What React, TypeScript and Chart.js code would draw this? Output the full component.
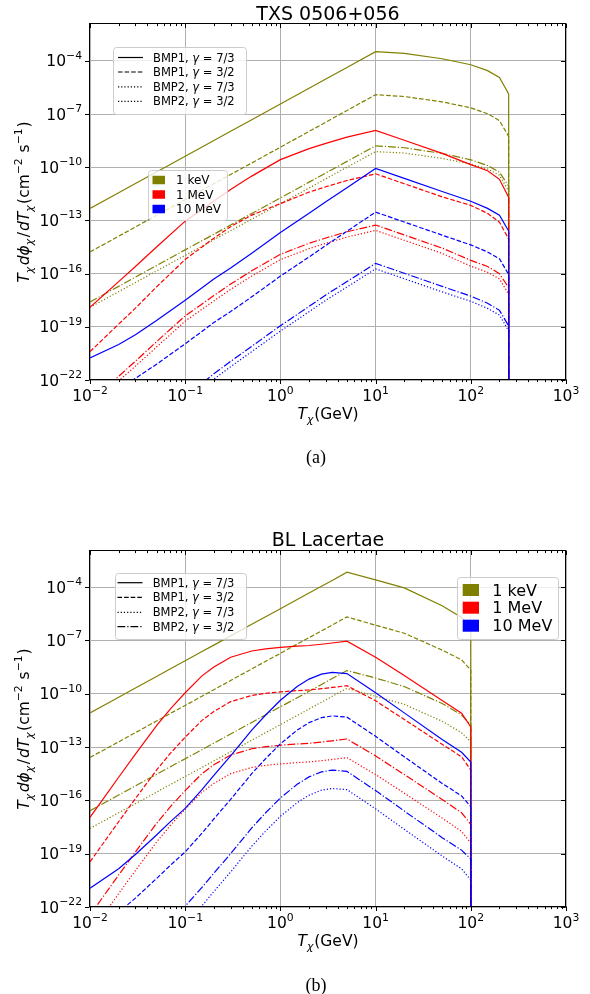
import React, { useEffect, useRef } from 'react';
import { Chart, registerables } from 'chart.js';

Chart.register(...registerables);

const OLIVE = '#808000';
const RED = '#ff0000';
const BLUE = '#0000ff';

const X_TICKS = [1e-2, 1e-1, 1, 10, 100, 1000];
const X_TICK_EXP = ['−2', '−1', '0', '1', '2', '3'];
const Y_TICKS = [1e-22, 1e-19, 1e-16, 1e-13, 1e-10, 1e-7, 1e-4];
const Y_TICK_EXP = ['−22', '−19', '−16', '−13', '−10', '−7', '−4'];

const MASS_LABELS = ['1 keV', '1 MeV', '10 MeV'];
const MASS_COLORS = [OLIVE, RED, BLUE];
const MODEL_NAMES = ['BMP1', 'BMP1', 'BMP2', 'BMP2'];
const GAMMA_LABELS = ['7/3', '3/2', '7/3', '3/2'];
const SERIES_STYLES = ['solid', 'dashed', 'dotted', 'dashdot'];
const LEGEND_STYLES_A = ['solid', 'dashed', 'dotted', 'dotted'];
const LEGEND_STYLES_B = ['solid', 'dashed', 'dotted', 'dashdot'];

// ---------- Panel (a): TXS 0506+056  (values are log10 of T dphi/dT) ----------
const xA = [0.01, 0.02, 0.03, 0.05, 0.1, 0.2, 0.3, 0.5, 1, 2, 3, 5, 10, 20, 50, 100, 150, 200, 250, 250];

const aKeV_BMP1_73 = [-12.33, -11.44, -10.92, -10.27, -9.38, -8.49, -7.97, -7.32, -6.43, -5.54, -5.02, -4.37, -3.48, -3.58, -3.88, -4.22, -4.55, -4.94, -5.87, -40];
const aKeV_BMP1_32 = [-14.78, -13.89, -13.37, -12.71, -11.82, -10.93, -10.41, -9.76, -8.87, -7.98, -7.46, -6.8, -5.91, -6.01, -6.31, -6.65, -6.98, -7.37, -8.26, -40];
const aKeV_BMP2_73 = [-17.9, -17.02, -16.5, -15.85, -14.97, -14.09, -13.58, -12.93, -12.05, -11.17, -10.65, -10.0, -9.12, -9.2, -9.5, -9.82, -10.1, -10.45, -11.35, -40];
const aKeV_BMP2_32 = [-17.6, -16.72, -16.2, -15.55, -14.66, -13.78, -13.26, -12.61, -11.73, -10.84, -10.32, -9.67, -8.79, -8.9, -9.22, -9.58, -9.9, -10.28, -11.07, -40];

const aMeV_BMP1_73 = [-17.9, -16.45, -15.6, -14.5, -13.04, -11.9, -11.25, -10.5, -9.57, -8.95, -8.65, -8.3, -7.92, -8.48, -9.22, -9.85, -10.2, -10.68, -11.7, -40];
const aMeV_BMP1_32 = [-20.4, -18.85, -17.95, -16.75, -15.2, -14.0, -13.35, -12.7, -12.05, -11.4, -11.1, -10.75, -10.37, -10.93, -11.67, -12.15, -12.6, -13.1, -14.05, -40];
const aMeV_BMP2_73 = [-23.54, -22.05, -21.22, -20.14, -18.68, -17.54, -16.89, -16.14, -15.21, -14.59, -14.29, -13.94, -13.56, -14.12, -14.86, -15.58, -15.92, -16.3, -17.16, -40];
const aMeV_BMP2_32 = [-23.24, -21.79, -20.94, -19.84, -18.38, -17.24, -16.59, -15.84, -14.91, -14.29, -13.99, -13.64, -13.26, -13.82, -14.56, -15.25, -15.6, -16.0, -16.8, -40];

const a10MeV_BMP1_73 = [-20.76, -20.0, -19.45, -18.65, -17.5, -16.3, -15.68, -14.85, -13.68, -12.6, -11.95, -11.15, -10.07, -10.63, -11.37, -11.92, -12.32, -12.7, -13.6, -40];
const a10MeV_BMP1_32 = [-23.22, -22.46, -21.91, -21.11, -19.96, -18.76, -18.14, -17.31, -16.14, -15.06, -14.41, -13.61, -12.53, -13.09, -13.83, -14.38, -14.78, -15.16, -16.05, -40];
const a10MeV_BMP2_73 = [-27.3, -26.3, -25.5, -24.6, -23.25, -21.95, -21.25, -20.4, -19.24, -18.15, -17.5, -16.76, -15.73, -16.29, -17.03, -17.56, -17.96, -18.34, -19.23, -40];
const a10MeV_BMP2_32 = [-27.0, -26.0, -25.2, -24.3, -22.95, -21.65, -20.95, -20.1, -18.94, -17.85, -17.2, -16.45, -15.42, -15.98, -16.72, -17.27, -17.67, -18.07, -18.95, -40];

// ---------- Panel (b): BL Lacertae ----------
const xB = [0.01, 0.02, 0.03, 0.05, 0.07, 0.1, 0.15, 0.2, 0.3, 0.5, 0.7, 1, 1.5, 2, 2.7, 3.5, 5, 10, 20, 50, 80, 100, 100];

const bKeV_BMP1_73 = [-11.08, -10.2, -9.68, -9.03, -8.6, -8.15, -7.63, -7.27, -6.75, -6.1, -5.67, -5.22, -4.7, -4.34, -3.96, -3.63, -3.17, -3.6, -4.05, -5.05, -5.72, -6.2, -40];
const bKeV_BMP1_32 = [-13.59, -12.71, -12.19, -11.54, -11.11, -10.66, -10.14, -9.78, -9.26, -8.61, -8.18, -7.73, -7.21, -6.85, -6.47, -6.14, -5.68, -6.15, -6.6, -7.55, -8.1, -8.67, -40];
const bKeV_BMP2_73 = [-17.58, -16.7, -16.19, -15.54, -15.11, -14.66, -14.15, -13.78, -13.27, -12.62, -12.19, -11.74, -11.23, -10.86, -10.48, -10.15, -9.7, -10.15, -10.6, -11.55, -12.2, -12.7, -40];
const bKeV_BMP2_32 = [-16.58, -15.7, -15.19, -14.54, -14.11, -13.66, -13.15, -12.78, -12.27, -11.62, -11.19, -10.74, -10.23, -9.86, -9.48, -9.15, -8.7, -9.12, -9.6, -10.55, -11.2, -11.75, -40];

const bMeV_BMP1_73 = [-16.96, -14.7, -13.4, -11.8, -10.85, -9.95, -9.0, -8.5, -7.95, -7.6, -7.48, -7.4, -7.33, -7.29, -7.22, -7.15, -7.05, -7.95, -8.98, -10.38, -11.1, -11.87, -40];
const bMeV_BMP1_32 = [-19.46, -17.2, -15.9, -14.3, -13.35, -12.45, -11.5, -11.0, -10.45, -10.1, -9.98, -9.9, -9.83, -9.79, -9.72, -9.65, -9.55, -10.4, -11.45, -12.85, -13.55, -14.3, -40];
const bMeV_BMP2_73 = [-23.51, -21.25, -19.95, -18.35, -17.4, -16.5, -15.55, -15.05, -14.5, -14.15, -14.03, -13.95, -13.88, -13.84, -13.77, -13.7, -13.6, -14.55, -15.6, -17.0, -17.75, -18.4, -40];
const bMeV_BMP2_32 = [-22.46, -20.2, -18.9, -17.3, -16.35, -15.45, -14.5, -14.0, -13.45, -13.1, -12.98, -12.9, -12.83, -12.79, -12.72, -12.65, -12.55, -13.5, -14.55, -15.95, -16.7, -17.35, -40];

const b10MeV_BMP1_73 = [-20.95, -19.85, -19.05, -17.95, -17.2, -16.45, -15.4, -14.6, -13.5, -12.05, -11.2, -10.37, -9.6, -9.18, -8.9, -8.8, -8.87, -9.95, -11.08, -12.58, -13.3, -13.85, -40];
const b10MeV_BMP1_32 = [-23.4, -22.3, -21.5, -20.4, -19.65, -18.9, -17.85, -17.05, -15.95, -14.5, -13.65, -12.82, -12.05, -11.63, -11.35, -11.25, -11.32, -12.4, -13.55, -15.05, -15.75, -16.36, -40];
const b10MeV_BMP2_73 = [-27.48, -26.38, -25.58, -24.48, -23.73, -22.98, -21.93, -21.13, -20.03, -18.58, -17.73, -16.9, -16.13, -15.71, -15.43, -15.33, -15.4, -16.48, -17.63, -19.13, -19.85, -20.48, -40];
const b10MeV_BMP2_32 = [-26.45, -25.35, -24.55, -23.45, -22.7, -21.95, -20.9, -20.1, -19.0, -17.55, -16.7, -15.87, -15.1, -14.68, -14.4, -14.3, -14.37, -15.45, -16.6, -18.1, -18.8, -19.3, -40];

const DASH: Record<string, number[]> = {
  solid: [],
  dashed: [4.6, 2.0],
  dotted: [1.2, 2.0],
  dashdot: [7.8, 2.0, 1.2, 2.0],
};

const FAMILY = "'DejaVu Sans', 'Noto Sans', sans-serif";
const fontOf = (size: number, italic?: boolean) => `${italic ? 'italic ' : ''}${size}px ${FAMILY}`;

type Run = { t: string; s: number; i?: boolean; dy?: number; g?: number };

function runsWidth(ctx: CanvasRenderingContext2D, runs: Run[]) {
  let w = 0;
  for (const r of runs) {
    ctx.font = fontOf(r.s, r.i);
    w += ctx.measureText(r.t).width + (r.g || 0);
  }
  return w;
}

function drawRuns(ctx: CanvasRenderingContext2D, x: number, y: number, runs: Run[], align: 'left' | 'center' | 'right') {
  const w = runsWidth(ctx, runs);
  let cx = align === 'center' ? x - w / 2 : align === 'right' ? x - w : x;
  ctx.textAlign = 'left';
  ctx.textBaseline = 'alphabetic';
  for (const r of runs) {
    ctx.font = fontOf(r.s, r.i);
    ctx.fillText(r.t, cx, y + (r.dy || 0));
    cx += ctx.measureText(r.t).width + (r.g || 0);
  }
}

const MAIN = 15.5;
const SUB = 10.8;
const Y_LABEL: Run[] = [
  { t: 'T', s: MAIN, i: true },
  { t: 'χ', s: SUB, i: true, dy: 3.5, g: 1.5 },
  { t: 'd', s: MAIN, i: true },
  { t: 'ϕ', s: MAIN, i: true },
  { t: 'χ', s: SUB, i: true, dy: 3.5, g: 1.5 },
  { t: '/', s: MAIN, g: 1 },
  { t: 'd', s: MAIN, i: true },
  { t: 'T', s: MAIN, i: true },
  { t: 'χ', s: SUB, i: true, dy: 3.5, g: 1.5 },
  { t: '(cm', s: MAIN },
  { t: '−2', s: SUB, dy: -7, g: 1 },
  { t: ' s', s: MAIN },
  { t: '−1', s: SUB, dy: -7, g: 1 },
  { t: ')', s: MAIN },
];
const X_LABEL: Run[] = [
  { t: 'T', s: MAIN, i: true },
  { t: 'χ', s: SUB, i: true, dy: 3.5, g: 1 },
  { t: '(GeV)', s: MAIN },
];

type PanelCfg = {
  title: string;
  titleBaseline: number;
  xs: number[];
  series: number[][][];
  yMax: number;
  padTop: number;
  padBottom: number;
  lineLegend: { x: number; y: number; w: number; h: number; rows: number[]; lx0: number; lx1: number; tx: number; fs: number; styles: string[] };
  massLegend: { x: number; y: number; w: number; h: number; rows: number[]; px: number; pw: number; ph: number; tx: number; fs: number };
};

const PANEL_A: PanelCfg = {
  title: 'TXS 0506+056',
  titleBaseline: 20,
  xs: xA,
  series: [
    [aKeV_BMP1_73, aKeV_BMP1_32, aKeV_BMP2_73, aKeV_BMP2_32],
    [aMeV_BMP1_73, aMeV_BMP1_32, aMeV_BMP2_73, aMeV_BMP2_32],
    [a10MeV_BMP1_73, a10MeV_BMP1_32, a10MeV_BMP2_73, a10MeV_BMP2_32],
  ],
  yMax: 0.012,
  padTop: 24,
  padBottom: 117,
  lineLegend: { x: 113, y: 47, w: 133, h: 67, rows: [57.5, 72, 86.8, 101.3], lx0: 118, lx1: 143, tx: 153, fs: 11.5, styles: LEGEND_STYLES_A },
  massLegend: { x: 148, y: 170, w: 79, h: 50, rows: [180, 194.5, 209], px: 152.5, pw: 12.5, ph: 8.5, tx: 176, fs: 12 },
};

const PANEL_B: PanelCfg = {
  title: 'BL Lacertae',
  titleBaseline: 49,
  xs: xB,
  series: [
    [bKeV_BMP1_73, bKeV_BMP1_32, bKeV_BMP2_73, bKeV_BMP2_32],
    [bMeV_BMP1_73, bMeV_BMP1_32, bMeV_BMP2_73, bMeV_BMP2_32],
    [b10MeV_BMP1_73, b10MeV_BMP1_32, b10MeV_BMP2_73, b10MeV_BMP2_32],
  ],
  yMax: 0.0106,
  padTop: 54,
  padBottom: 87,
  lineLegend: { x: 115, y: 76, w: 131, h: 66, rows: [85.7, 100.3, 115.3, 129.7], lx0: 117.5, lx1: 142.5, tx: 152.7, fs: 11.5, styles: LEGEND_STYLES_B },
  massLegend: { x: 457, y: 80, w: 101, h: 62, rows: [93, 110.7, 128.7], px: 462.7, pw: 16.3, ph: 12, tx: 492.3, fs: 16 },
};

function roundRectPath(ctx: CanvasRenderingContext2D, x: number, y: number, w: number, h: number, r: number) {
  ctx.beginPath();
  ctx.moveTo(x + r, y);
  ctx.lineTo(x + w - r, y);
  ctx.quadraticCurveTo(x + w, y, x + w, y + r);
  ctx.lineTo(x + w, y + h - r);
  ctx.quadraticCurveTo(x + w, y + h, x + w - r, y + h);
  ctx.lineTo(x + r, y + h);
  ctx.quadraticCurveTo(x, y + h, x, y + h - r);
  ctx.lineTo(x, y + r);
  ctx.quadraticCurveTo(x, y, x + r, y);
  ctx.closePath();
}

function makeDecor(p: PanelCfg) {
  return {
    id: 'decor',
    afterDraw(chart: any) {
      const ctx: CanvasRenderingContext2D = chart.ctx;
      const a = chart.chartArea;
      const xs = chart.scales.x;
      const ys = chart.scales.y;
      const al = (v: number) => Math.round(v) + 0.5;
      ctx.save();
      ctx.strokeStyle = '#000';
      ctx.fillStyle = '#000';
      ctx.lineWidth = 1;
      ctx.setLineDash([]);
      const seg = (x1: number, y1: number, x2: number, y2: number) => {
        ctx.beginPath();
        ctx.moveTo(x1, y1);
        ctx.lineTo(x2, y2);
        ctx.stroke();
      };
      const L = Math.round(a.left) - 0.5;
      const R = Math.round(a.right) - 0.5;
      const T = Math.round(a.top) - 0.5;
      const B = Math.round(a.bottom) - 0.5;
      ctx.strokeRect(L, T, R - L, B - T);

      // x ticks
      for (let d = -2; d <= 3; d++) {
        const px = al(xs.getPixelForValue(Math.pow(10, d)));
        seg(px, B, px, B + 4.5);
        seg(px, T, px, T + 4.5);
        if (d < 3) {
          for (let m = 2; m <= 9; m++) {
            const mx = al(xs.getPixelForValue(m * Math.pow(10, d)));
            seg(mx, B, mx, B + 2.6);
            seg(mx, T, mx, T + 2.6);
          }
        }
      }
      // y ticks
      Y_TICKS.forEach((v) => {
        const py = al(ys.getPixelForValue(v));
        seg(L - 4.5, py, L, py);
        seg(R - 4.5, py, R, py);
      });

      // tick labels
      X_TICKS.forEach((v, i) => {
        const px = xs.getPixelForValue(v);
        drawRuns(ctx, px, a.bottom + 21, [{ t: '10', s: MAIN }, { t: X_TICK_EXP[i], s: SUB, dy: -7.5 }], 'center');
      });
      Y_TICKS.forEach((v, i) => {
        const py = ys.getPixelForValue(v);
        drawRuns(ctx, a.left - 8, py + 5.5, [{ t: '10', s: MAIN }, { t: Y_TICK_EXP[i], s: SUB, dy: -7.5 }], 'right');
      });

      // axis labels
      const cx = (a.left + a.right) / 2;
      drawRuns(ctx, cx, a.bottom + 39, X_LABEL, 'center');
      ctx.save();
      ctx.translate(29, (a.top + a.bottom) / 2);
      ctx.rotate(-Math.PI / 2);
      drawRuns(ctx, 0, 0, Y_LABEL, 'center');
      ctx.restore();

      // title
      ctx.font = fontOf(19);
      ctx.textAlign = 'center';
      ctx.fillText(p.title, cx, p.titleBaseline);

      // line-style legend
      const ll = p.lineLegend;
      roundRectPath(ctx, ll.x + 0.5, ll.y + 0.5, ll.w, ll.h, 3);
      ctx.fillStyle = 'rgba(255,255,255,0.8)';
      ctx.fill();
      ctx.strokeStyle = '#cccccc';
      ctx.stroke();
      ll.rows.forEach((ry, i) => {
        ctx.strokeStyle = '#000';
        ctx.lineWidth = 1.2;
        ctx.setLineDash(DASH[ll.styles[i]]);
        seg(ll.lx0, ry, ll.lx1, ry);
        ctx.setLineDash([]);
        ctx.fillStyle = '#000';
        drawRuns(ctx, ll.tx, ry + 4, [
          { t: MODEL_NAMES[i] + ', ', s: ll.fs },
          { t: 'γ', s: ll.fs, i: true },
          { t: ' = ' + GAMMA_LABELS[i], s: ll.fs },
        ], 'left');
      });
      ctx.lineWidth = 1;

      // mass legend
      const ml = p.massLegend;
      roundRectPath(ctx, ml.x + 0.5, ml.y + 0.5, ml.w, ml.h, 3);
      ctx.fillStyle = 'rgba(255,255,255,0.8)';
      ctx.fill();
      ctx.strokeStyle = '#cccccc';
      ctx.stroke();
      ml.rows.forEach((ry, i) => {
        ctx.fillStyle = MASS_COLORS[i];
        ctx.fillRect(ml.px, ry - ml.ph / 2, ml.pw, ml.ph);
        ctx.fillStyle = '#000';
        drawRuns(ctx, ml.tx, ry + ml.fs * 0.36, [{ t: MASS_LABELS[i], s: ml.fs }], 'left');
      });
      ctx.restore();
    },
  };
}

function Panel({ cfg, top }: { cfg: PanelCfg; top: number }) {
  const ref = useRef<HTMLCanvasElement>(null);
  useEffect(() => {
    if (!ref.current) return;
    const datasets: any[] = [];
    cfg.series.forEach((group, mi) => {
      group.forEach((vals, si) => {
        datasets.push({
          label: `${MASS_LABELS[mi]} ${MODEL_NAMES[si]} γ=${GAMMA_LABELS[si]}`,
          data: cfg.xs.map((x, i) => ({ x, y: Math.pow(10, vals[i]) })),
          borderColor: MASS_COLORS[mi],
          backgroundColor: MASS_COLORS[mi],
          borderWidth: 1.2,
          borderDash: DASH[SERIES_STYLES[si]],
          pointRadius: 0,
          fill: false,
          tension: 0,
          order: 2 - mi,
        });
      });
    });
    const chart = new Chart(ref.current, {
      type: 'line',
      data: { datasets },
      options: {
        animation: false,
        responsive: false,
        devicePixelRatio: 1,
        events: [],
        layout: { padding: { left: 90, right: 24, top: cfg.padTop, bottom: cfg.padBottom } },
        plugins: { legend: { display: false }, tooltip: { enabled: false }, title: { display: false } },
        scales: {
          x: {
            type: 'logarithmic',
            min: 0.01,
            max: 1000,
            afterBuildTicks: (s: any) => {
              s.ticks = X_TICKS.map((v) => ({ value: v }));
            },
            afterFit: (s: any) => {
              s.height = 0;
            },
            ticks: { display: false },
            grid: { color: '#b0b0b0', lineWidth: 1, drawTicks: false },
            border: { display: false },
          },
          y: {
            type: 'logarithmic',
            min: 1e-22,
            max: cfg.yMax,
            afterBuildTicks: (s: any) => {
              s.ticks = Y_TICKS.map((v) => ({ value: v }));
            },
            afterFit: (s: any) => {
              s.width = 0;
            },
            ticks: { display: false },
            grid: { color: '#b0b0b0', lineWidth: 1, drawTicks: false },
            border: { display: false },
          },
        },
      } as any,
      plugins: [makeDecor(cfg)],
    });
    return () => chart.destroy();
  }, [cfg]);
  return (
    <canvas
      ref={ref}
      width={590}
      height={497}
      style={{ position: 'absolute', left: 0, top, width: 590, height: 497, display: 'block' }}
    />
  );
}

const captionStyle: React.CSSProperties = {
  position: 'absolute',
  left: 0,
  width: 632,
  textAlign: 'center',
  fontFamily: "'Liberation Serif', 'DejaVu Serif', serif",
  fontSize: 18,
  lineHeight: '20px',
  color: '#000',
};

export default function App() {
  return (
    <div style={{ position: 'absolute', left: 0, top: 0, width: 590, height: 994, background: '#fff', overflow: 'hidden' }}>
      <Panel cfg={PANEL_A} top={0} />
      <Panel cfg={PANEL_B} top={497} />
      <div style={{ ...captionStyle, top: 447 }}>(a)</div>
      <div style={{ ...captionStyle, top: 975 }}>(b)</div>
    </div>
  );
}
